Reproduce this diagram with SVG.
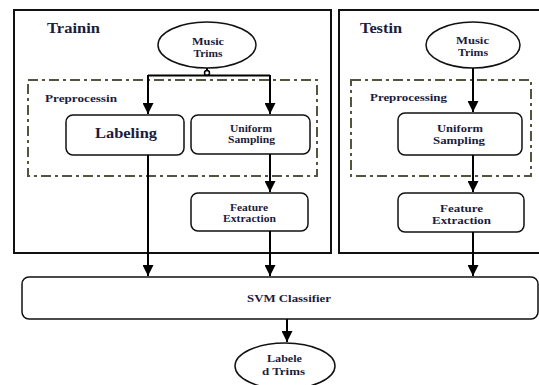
<svg xmlns="http://www.w3.org/2000/svg" width="539" height="385" viewBox="0 0 539 385">
<defs>
<marker id="ah" viewBox="0 0 10 10" refX="10" refY="5" markerWidth="6" markerHeight="5.5" markerUnits="strokeWidth" orient="auto">
<path d="M0,0 L10,5 L0,10 z" fill="#000"/>
</marker>
<style>
.outer{fill:none;stroke:#111;stroke-width:2}
.dash{fill:none;stroke:#55543f;stroke-width:2;stroke-dasharray:10 4 3 4}
.node{fill:#fff;stroke:#111;stroke-width:1.5}
.t{font-family:"Liberation Serif","Times New Roman",serif;font-weight:bold;fill:#1c1c3c}
.s10{font-size:10.5px}
.c{text-anchor:middle}
.conn{fill:none;stroke:#000;stroke-width:2}
</style>
</defs>
<rect width="539" height="385" fill="#fff"/>
<g id="training-panel">
<rect class="outer" x="14" y="10" width="317" height="243"/>
<text class="t" x="47" y="33" font-size="14" textLength="53" lengthAdjust="spacingAndGlyphs">Trainin</text>
</g>
<g id="testing-panel">
<rect class="outer" x="339" y="10" width="210" height="243"/>
<text class="t" x="360" y="33" font-size="14" textLength="42" lengthAdjust="spacingAndGlyphs">Testin</text>
</g>
<g id="preprocessing-train">
<rect class="dash" x="28" y="80" width="289" height="96"/>
<text class="t s10" x="45" y="102" textLength="72" lengthAdjust="spacingAndGlyphs">Preprocessin</text>
</g>
<g id="preprocessing-test">
<rect class="dash" x="351" y="80" width="180" height="96"/>
<text class="t s10" x="370" y="101" textLength="77" lengthAdjust="spacingAndGlyphs">Preprocessing</text>
</g>
<g id="music-trims-train">
<ellipse class="node" cx="207" cy="45" rx="49" ry="23"/>
<text class="t s10 c" x="208" y="44.5" textLength="32" lengthAdjust="spacingAndGlyphs">Music</text>
<text class="t s10 c" x="208" y="56.5" textLength="29" lengthAdjust="spacingAndGlyphs">Trims</text>
</g>
<g id="music-trims-test">
<ellipse class="node" cx="473" cy="45" rx="47" ry="23"/>
<text class="t s10 c" x="472.5" y="44" textLength="33" lengthAdjust="spacingAndGlyphs">Music</text>
<text class="t s10 c" x="473" y="56" textLength="30" lengthAdjust="spacingAndGlyphs">Trims</text>
</g>
<g id="labeling">
<rect class="node" x="66" y="115" width="118" height="40" rx="7"/>
<text class="t c" x="126" y="138" font-size="14" textLength="62" lengthAdjust="spacingAndGlyphs">Labeling</text>
</g>
<g id="uniform-train">
<rect class="node" x="191" y="115" width="119" height="39" rx="7"/>
<text class="t s10 c" x="251" y="132" textLength="42" lengthAdjust="spacingAndGlyphs">Uniform</text>
<text class="t s10 c" x="251.5" y="143" textLength="47" lengthAdjust="spacingAndGlyphs">Sampling</text>
</g>
<g id="feature-train">
<rect class="node" x="191" y="193" width="117" height="38" rx="7"/>
<text class="t s10 c" x="249" y="211" textLength="38" lengthAdjust="spacingAndGlyphs">Feature</text>
<text class="t s10 c" x="249.5" y="222" textLength="53" lengthAdjust="spacingAndGlyphs">Extraction</text>
</g>
<g id="uniform-test">
<rect class="node" x="398" y="113" width="124" height="42" rx="7"/>
<text class="t s10 c" x="460" y="132" textLength="46" lengthAdjust="spacingAndGlyphs">Uniform</text>
<text class="t s10 c" x="459" y="144" textLength="52" lengthAdjust="spacingAndGlyphs">Sampling</text>
</g>
<g id="feature-test">
<rect class="node" x="398" y="193" width="126" height="39" rx="7"/>
<text class="t s10 c" x="461.5" y="212" textLength="43" lengthAdjust="spacingAndGlyphs">Feature</text>
<text class="t s10 c" x="461.5" y="224" textLength="59" lengthAdjust="spacingAndGlyphs">Extraction</text>
</g>
<g id="svm">
<rect class="node" x="22" y="277" width="516" height="42" rx="7"/>
<text class="t s10 c" x="289" y="302" textLength="84" lengthAdjust="spacingAndGlyphs">SVM Classifier</text>
</g>
<g id="labeled-trims">
<ellipse class="node" cx="285" cy="366" rx="50" ry="23"/>
<text class="t c" x="284.5" y="362" font-size="11" textLength="35" lengthAdjust="spacingAndGlyphs">Labele</text>
<text class="t c" x="283.5" y="375" font-size="11" textLength="43" lengthAdjust="spacingAndGlyphs">d Trims</text>
</g>
<g id="connectors">
<path class="conn" d="M207,68 V75"/>
<circle cx="207" cy="73" r="2.5" fill="#fff" stroke="#000" stroke-width="1.5"/>
<path class="conn" d="M148,75.5 H270"/>
<path class="conn" marker-end="url(#ah)" d="M148,75 V114"/>
<path class="conn" marker-end="url(#ah)" d="M270,75 V114"/>
<path class="conn" marker-end="url(#ah)" d="M270,154 V192"/>
<path class="conn" marker-end="url(#ah)" d="M148,155 V276"/>
<path class="conn" marker-end="url(#ah)" d="M270,231 V276"/>
<path class="conn" marker-end="url(#ah)" d="M473,68 V112"/>
<path class="conn" marker-end="url(#ah)" d="M473,155 V192"/>
<path class="conn" marker-end="url(#ah)" d="M473,232 V276"/>
<path class="conn" marker-end="url(#ah)" d="M287,319 V342"/>
</g>
</svg>
